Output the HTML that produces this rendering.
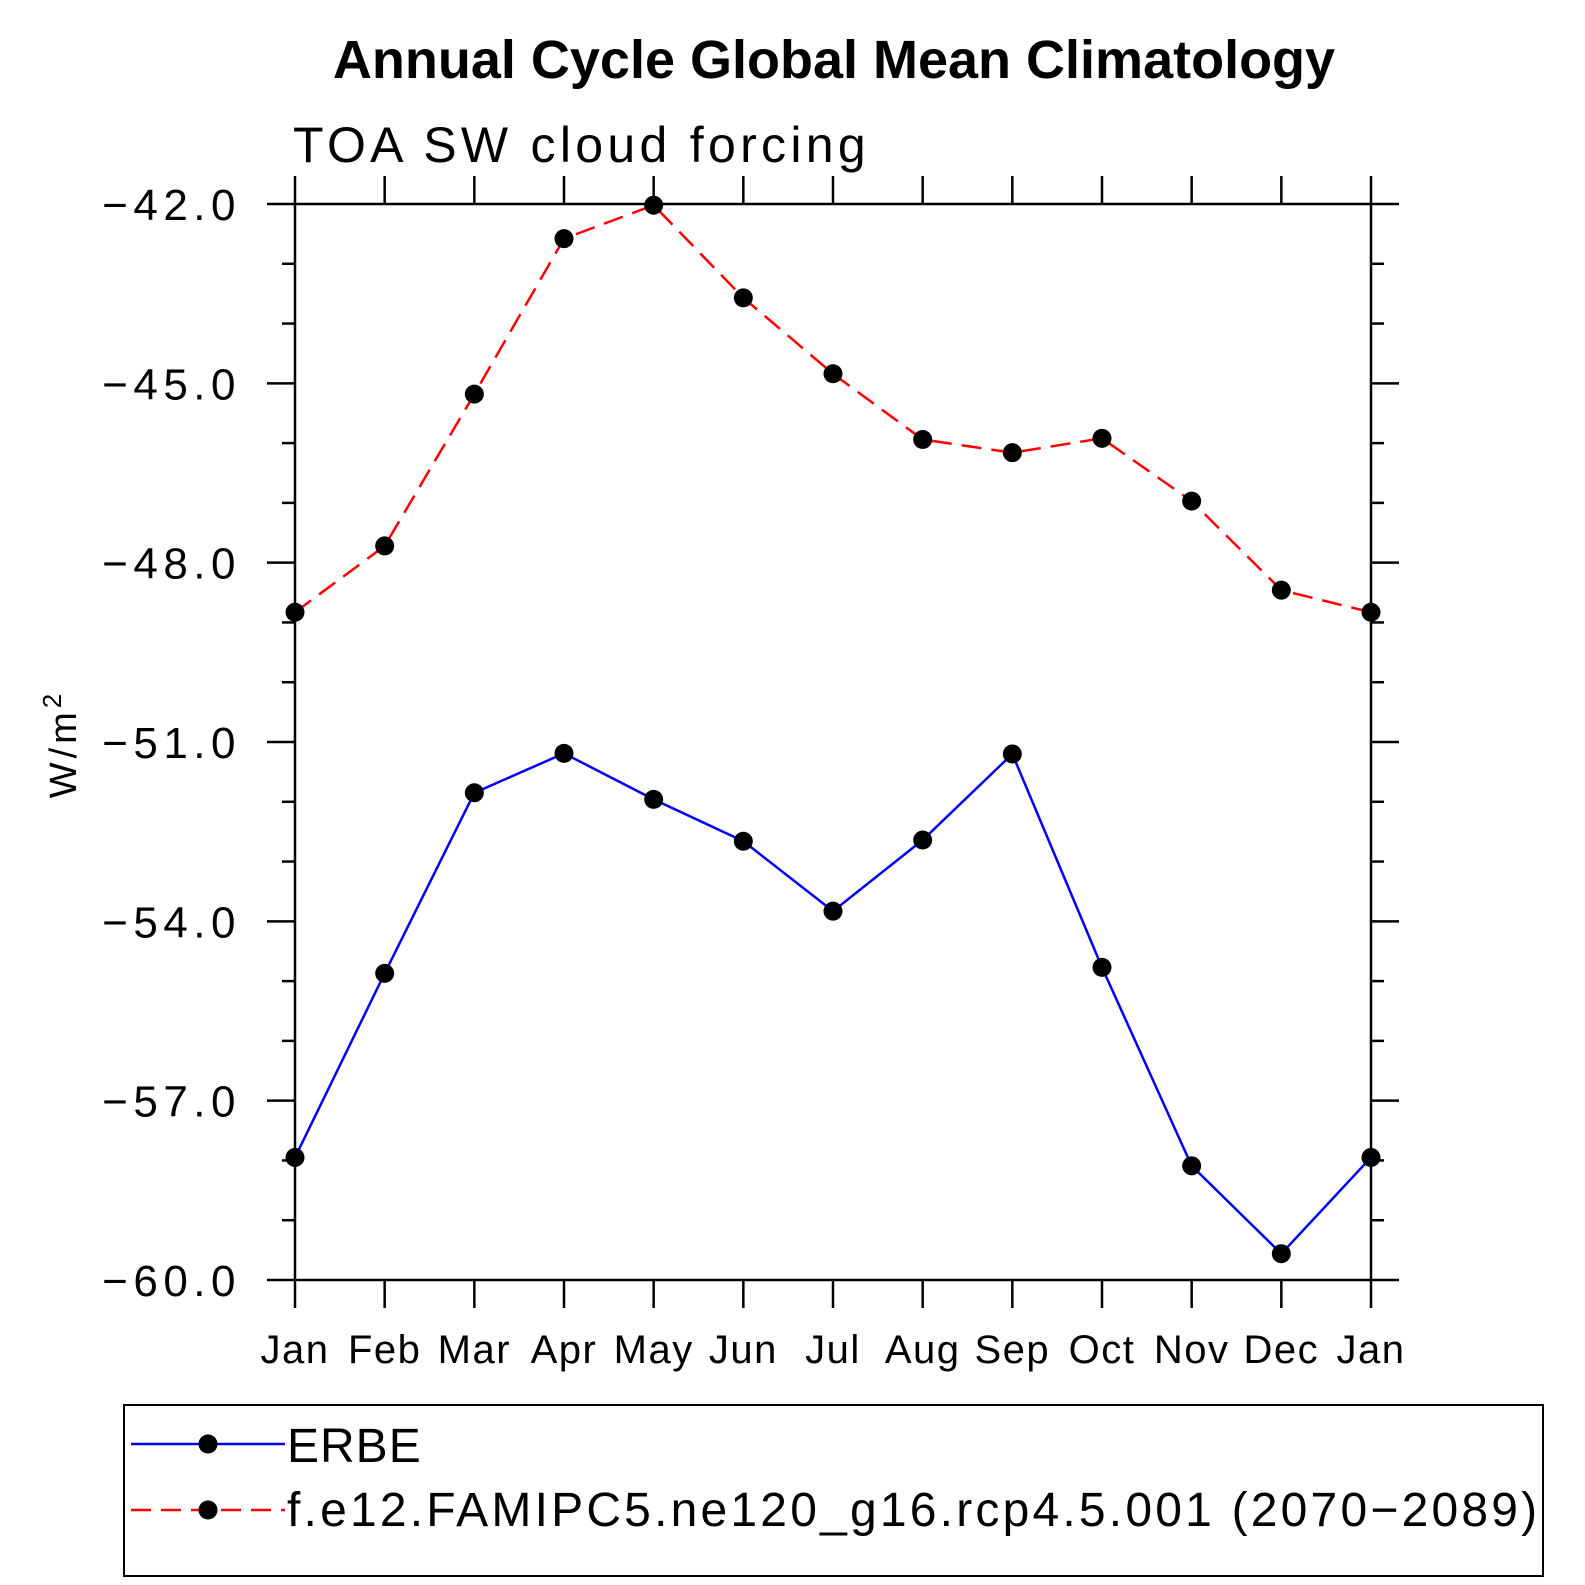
<!DOCTYPE html>
<html><head><meta charset="utf-8"><style>
html,body{margin:0;padding:0;background:#fff;}
svg{display:block;font-family:"Liberation Sans",sans-serif;}
</style></head><body>
<svg id="chart" width="1585" height="1585" viewBox="0 0 1585 1585">
<text x="834" y="78" text-anchor="middle" font-size="54" font-weight="bold">Annual Cycle Global Mean Climatology</text>
<text x="293" y="162" font-size="50" letter-spacing="4.3">TOA SW cloud forcing</text>
<text transform="translate(76,744) rotate(-90)" text-anchor="middle" font-size="38" letter-spacing="4">W/m<tspan dy="-15" font-size="26">2</tspan></text>
<g id="axes"></g>
<g id="series"></g>
<rect x="124" y="1405" width="1419" height="171" fill="none" stroke="#000" stroke-width="2"/>
<g>
<line x1="131" y1="1444" x2="285" y2="1444" stroke="#00f" stroke-width="2.5"/>
<circle cx="208" cy="1444" r="9.5" fill="#000"/>
<text x="287" y="1462" font-size="48" letter-spacing="1">ERBE</text></g>
<g>
<line x1="131" y1="1510" x2="285" y2="1510" stroke="#f00" stroke-width="2.5" stroke-dasharray="20,10"/>
<circle cx="208" cy="1510" r="9.5" fill="#000"/>
<text x="287" y="1526" font-size="48" letter-spacing="3.2">f.e12.FAMIPC5.ne120_g16.rcp4.5.001 (2070−2089)</text></g>
</svg>
<script>
const months=["Jan","Feb","Mar","Apr","May","Jun","Jul","Aug","Sep","Oct","Nov","Dec","Jan"];
const erbe=[-57.95,-54.87,-51.85,-51.19,-51.96,-52.66,-53.83,-52.64,-51.20,-54.77,-58.09,-59.56,-57.95];
const model=[-48.83,-47.72,-45.18,-42.58,-42.02,-43.57,-44.84,-45.94,-46.16,-45.92,-46.97,-48.46,-48.83];
const yTicks=[-42,-45,-48,-51,-54,-57,-60];
const yTickLabels=["−42.0","−45.0","−48.0","−51.0","−54.0","−57.0","−60.0"];
const NS="http://www.w3.org/2000/svg";
const X0=295,X1=1371,Y0=204,Y1=1280,YMAX=-42,YMIN=-60;
function xs(i){return X0+(X1-X0)*i/(months.length-1);}
function ys(v){return Y0+(YMAX-v)/(YMAX-YMIN)*(Y1-Y0);}
function mk(tag,attrs,parent){const e=document.createElementNS(NS,tag);for(const k in attrs)e.setAttribute(k,attrs[k]);parent.appendChild(e);return e;}
const axes=document.getElementById('axes'),ser=document.getElementById('series');
const frame=mk('rect',{x:X0,y:Y0,width:X1-X0,height:Y1-Y0,fill:"none",stroke:"#000","stroke-width":2.5},axes);


for(let v=YMIN;v<=YMAX;v++){
  const major=yTicks.includes(v);const y=ys(v);const L=major?28:13;
  const t=mk('line',{x1:X0-L,y1:y,x2:X0,y2:y,stroke:"#000","stroke-width":2.5},axes);
  
  
  const t2=mk('line',{x1:X1,y1:y,x2:X1+L,y2:y,stroke:"#000","stroke-width":2.5},axes);
  
  
}
yTicks.forEach((v,i)=>{
  const tx=mk('text',{x:241,y:ys(v)+16,"text-anchor":"end","font-size":44,"letter-spacing":5.5},axes);tx.textContent=yTickLabels[i];
  
  
});
months.forEach((m,i)=>{
  const x=xs(i);
  const b=mk('line',{x1:x,y1:Y1,x2:x,y2:Y1+28,stroke:"#000","stroke-width":2.5},axes);
  
  
  const t=mk('line',{x1:x,y1:Y0-28,x2:x,y2:Y0,stroke:"#000","stroke-width":2.5},axes);
  
  
  const tx=mk('text',{x:x,y:1363,"text-anchor":"middle","font-size":40,"letter-spacing":1.5},axes);tx.textContent=m;
  
  
});
function drawSeries(data,color,dash,name){
  const pts=data.map((v,i)=>xs(i)+","+ys(v)).join(" ");
  const pl=mk('polyline',{points:pts,fill:"none",stroke:color,"stroke-width":2.5,"stroke-dasharray":dash},ser);
  
  
  data.forEach((v,i)=>{
    const c=mk('circle',{cx:xs(i),cy:ys(v),r:9.5,fill:"#000"},ser);
    
    
  });
}
drawSeries(model,"#f00","20,10","model");
drawSeries(erbe,"#00f","none","erbe");
</script>
</body></html>
